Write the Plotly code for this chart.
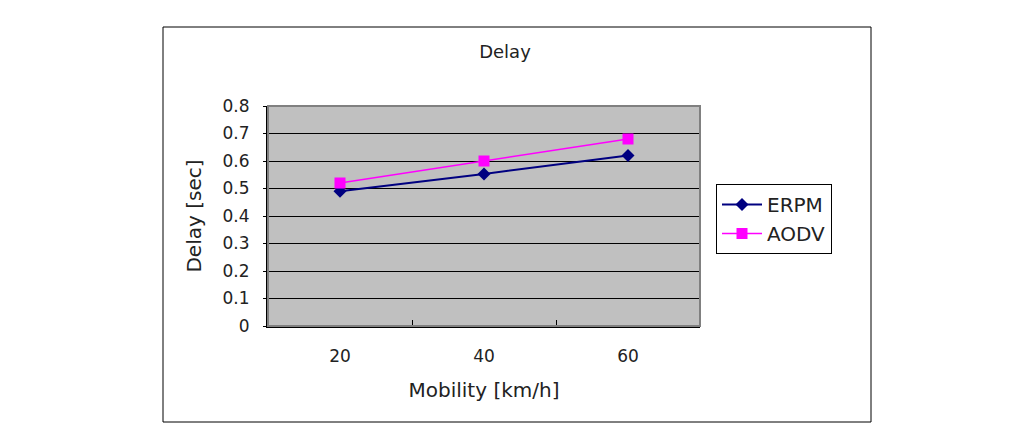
import plotly.graph_objects as go

mobility = [20, 40, 60]
erpm = [0.49, 0.553, 0.62]
aodv = [0.52, 0.60, 0.68]
x_tick_labels = ["20", "40", "60"]
y_tick_values = [0, 0.1, 0.2, 0.3, 0.4, 0.5, 0.6, 0.7, 0.8]
y_tick_labels = ["0", "0.1", "0.2", "0.3", "0.4", "0.5", "0.6", "0.7", "0.8"]

FONT = "DejaVu Sans"
OFF = 8  # page body margin
PL, PR, PT, PB = 268 - OFF, 700 - OFF, 106 - OFF, 326 - OFF
PW, PH = PR - PL, PB - PT


def px(x):
    return (x - OFF - PL) / PW


def py(y):
    return (PB - (y - OFF)) / PH


fig = go.Figure()
fig.add_trace(go.Scatter(x=mobility, y=erpm, name="ERPM", mode="lines+markers",
                         line=dict(color="#000080", width=2),
                         marker=dict(symbol="diamond", size=10, color="#000080")))
fig.add_trace(go.Scatter(x=mobility, y=aodv, name="AODV", mode="lines+markers",
                         line=dict(color="#FF00FF", width=1.5),
                         marker=dict(symbol="square", size=11, color="#FF00FF")))

fig.update_layout(
    width=1017, height=427,
    margin=dict(l=PL, r=1017 - PR, t=PT, b=427 - PB),
    paper_bgcolor="white", plot_bgcolor="#C0C0C0",
    font=dict(family=FONT, size=17, color="#222222"),
    title=dict(text="Delay", x=(505 - OFF) / 1017, xanchor="center",
               y=1 - (52 - OFF) / 427, yanchor="middle", font=dict(size=18)),
    showlegend=True,
    legend=dict(x=px(716), y=py(184), xanchor="left", yanchor="top",
                bordercolor="black", borderwidth=1, bgcolor="white",
                font=dict(size=20), tracegroupgap=0, itemwidth=40),
    xaxis=dict(range=[10, 70], tickvals=mobility, ticktext=x_tick_labels,
               ticks="", showgrid=False, zeroline=False,
               showline=True, linecolor="black", linewidth=2, mirror=False,
               minor=dict(tickvals=[30, 50], ticks="inside", ticklen=6, tickcolor="black", showgrid=False),
               title=dict(text="Mobility [km/h]", standoff=18), ticklabelstandoff=14),
    yaxis=dict(range=[0, 0.8], tickvals=y_tick_values, ticktext=y_tick_labels,
               showgrid=True, gridcolor="black", gridwidth=1, zeroline=False,
               showline=True, linecolor="black", linewidth=2,
               ticks="outside", ticklen=3, tickcolor="black", ticklabelstandoff=10,
               title=dict(text="Delay [sec]", standoff=16)),
)

# outer chart border and plot area frame
fig.add_shape(type="rect", xref="paper", yref="paper",
              x0=px(163), x1=px(871), y0=py(422), y1=py(27),
              line=dict(color="black", width=1), layer="below")
fig.add_shape(type="rect", xref="paper", yref="paper", x0=0, x1=1, y0=0, y1=1,
              line=dict(color="#808080", width=2))

fig.write_html("out.html")
